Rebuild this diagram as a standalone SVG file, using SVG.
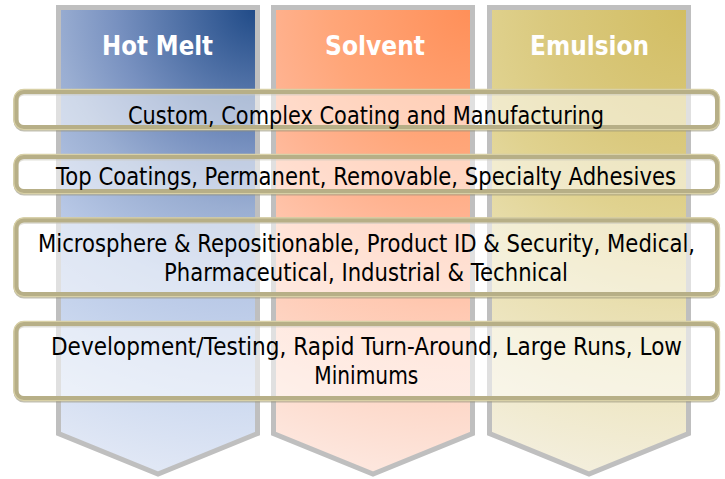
<svg xmlns="http://www.w3.org/2000/svg" width="725" height="479" viewBox="0 0 725 479">
  <defs>
    <radialGradient id="gHot" gradientUnits="userSpaceOnUse" cx="257" cy="8" r="470" fx="257" fy="8">
      <stop offset="0" stop-color="#1f4a87"/>
      <stop offset="0.3" stop-color="#7891c0"/>
      <stop offset="0.43" stop-color="#9aaed2"/>
      <stop offset="0.6" stop-color="#b8c8e6"/>
      <stop offset="0.8" stop-color="#cbd8ef"/>
      <stop offset="1" stop-color="#e0e7f5"/>
    </radialGradient>
    <radialGradient id="gSol" gradientUnits="userSpaceOnUse" cx="472" cy="8" r="470" fx="472" fy="8">
      <stop offset="0" stop-color="#ff8f58"/>
      <stop offset="0.3" stop-color="#ffa679"/>
      <stop offset="0.45" stop-color="#ffb391"/>
      <stop offset="0.65" stop-color="#ffc9b2"/>
      <stop offset="0.85" stop-color="#fdd9ca"/>
      <stop offset="1" stop-color="#fde6dd"/>
    </radialGradient>
    <radialGradient id="gEmu" gradientUnits="userSpaceOnUse" cx="688" cy="8" r="470" fx="688" fy="8">
      <stop offset="0" stop-color="#d2bd62"/>
      <stop offset="0.3" stop-color="#dac97e"/>
      <stop offset="0.45" stop-color="#e0d28f"/>
      <stop offset="0.65" stop-color="#e9dfb0"/>
      <stop offset="0.85" stop-color="#efe8c8"/>
      <stop offset="1" stop-color="#f3eedb"/>
    </radialGradient>
  </defs>
  <style>
    .col { stroke: #bfbfbf; stroke-width: 5; stroke-linejoin: miter; }
    .hdr { font-family: "DejaVu Sans", "Liberation Sans", sans-serif; font-weight: bold; font-size: 27px; fill: #ffffff; text-anchor: middle; }
    .shadow { fill: none; stroke: #8e8a72; stroke-width: 5; opacity: 0.55; }
    .band { fill: #ffffff; fill-opacity: 0.52; stroke: #b7af87; stroke-width: 5; }
    .hl { fill: none; stroke: #d8d0a6; stroke-width: 1.2; }
    .txt { font-family: "DejaVu Sans", "Liberation Sans", sans-serif; font-size: 24px; fill: #000000; text-anchor: middle; }
  </style>
  <rect width="725" height="479" fill="#ffffff"/>
  <g id="col-hotmelt">
    <path class="col" fill="url(#gHot)" d="M58.5,7.5 H257.5 V433.5 L158,474 L58.5,433.5 Z"/>
    <text class="hdr" transform="translate(157.5,55) scale(0.85,1)" x="0" y="0" textLength="130.6" lengthAdjust="spacingAndGlyphs">Hot Melt</text>
  </g>
  <g id="col-solvent">
    <path class="col" fill="url(#gSol)" d="M273.5,7.5 H472.5 V433.5 L373,474 L273.5,433.5 Z"/>
    <text class="hdr" transform="translate(375,55) scale(0.85,1)" x="0" y="0" textLength="117.6" lengthAdjust="spacingAndGlyphs">Solvent</text>
  </g>
  <g id="col-emulsion">
    <path class="col" fill="url(#gEmu)" d="M489.5,7.5 H688.5 V433.5 L589,474 L489.5,433.5 Z"/>
    <text class="hdr" transform="translate(589.5,55) scale(0.85,1)" x="0" y="0" textLength="140" lengthAdjust="spacingAndGlyphs">Emulsion</text>
  </g>
  <g id="connectors"/>
  <g id="band-1">
    <rect class="shadow" x="16" y="93" width="701.5" height="36" rx="8"/>
    <rect class="band" x="16" y="91.5" width="701.5" height="36" rx="8"/>
    <rect class="hl" x="13.9" y="89.4" width="705.7" height="40.2" rx="10"/>
    <text class="txt" transform="translate(366,124) scale(0.885,1)" x="0" y="0" textLength="537.9" lengthAdjust="spacingAndGlyphs">Custom, Complex Coating and Manufacturing</text>
  </g>
  <g id="band-2">
    <rect class="shadow" x="16" y="158" width="701.5" height="35" rx="8"/>
    <rect class="band" x="16" y="156.5" width="701.5" height="35" rx="8"/>
    <rect class="hl" x="13.9" y="154.4" width="705.7" height="39.2" rx="10"/>
    <text class="txt" transform="translate(366,185) scale(0.885,1)" x="0" y="0" textLength="700.6" lengthAdjust="spacingAndGlyphs">Top Coatings, Permanent, Removable, Specialty Adhesives</text>
  </g>
  <g id="band-3">
    <rect class="shadow" x="16" y="221.5" width="701.5" height="74.5" rx="8"/>
    <rect class="band" x="16" y="220" width="701.5" height="74.5" rx="8"/>
    <rect class="hl" x="13.9" y="217.9" width="705.7" height="78.7" rx="10"/>
    <text class="txt" transform="translate(366.5,252) scale(0.885,1)" x="0" y="0" textLength="742.4" lengthAdjust="spacingAndGlyphs">Microsphere &amp; Repositionable, Product ID &amp; Security, Medical,</text>
    <text class="txt" transform="translate(366,281) scale(0.885,1)" x="0" y="0" textLength="456.5" lengthAdjust="spacingAndGlyphs">Pharmaceutical, Industrial &amp; Technical</text>
  </g>
  <g id="band-4">
    <rect class="shadow" x="16" y="325" width="701.5" height="75" rx="8"/>
    <rect class="band" x="16" y="323.5" width="701.5" height="75" rx="8"/>
    <rect class="hl" x="13.9" y="321.4" width="705.7" height="79.2" rx="10"/>
    <text class="txt" transform="translate(366.5,354.5) scale(0.885,1)" x="0" y="0" textLength="713" lengthAdjust="spacingAndGlyphs">Development/Testing, Rapid Turn-Around, Large Runs, Low</text>
    <text class="txt" transform="translate(366.3,383.5) scale(0.885,1)" x="0" y="0" textLength="117.5" lengthAdjust="spacingAndGlyphs">Minimums</text>
  </g>
</svg>
